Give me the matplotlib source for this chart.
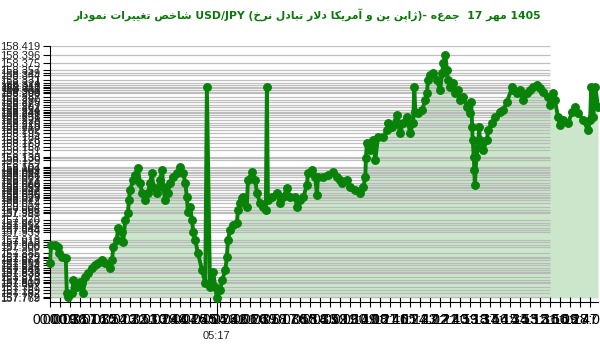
import re

import matplotlib

matplotlib.use("Agg")
import matplotlib.pyplot as plt
import numpy as np

# minutes after midnight for each quote, and the USD/JPY price
minutes = [
    0, 2, 10, 15, 17, 23, 30, 32, 34, 42, 44, 51, 57, 61, 63, 67, 72, 80, 86,
    91, 99, 105, 114, 118, 120, 127, 129, 137, 139, 143, 148, 150, 152, 158,
    162, 167, 171, 175, 181, 186, 190, 194, 196, 203, 209, 213, 215, 219, 224,
    228, 234, 241, 247, 253, 257, 260, 262, 266, 270, 272, 276, 281, 289, 295,
    298, 304, 310, 314, 317, 323, 327, 333, 336, 338, 342, 348, 355, 357, 361,
    365, 367, 374, 376, 384, 390, 393, 399, 405, 410, 412, 414, 422, 431, 437,
    443, 450, 456, 466, 469, 475, 481, 488, 490, 498, 504, 507, 509, 519, 528,
    538, 545, 551, 555, 564, 570, 580, 589, 595, 599, 600, 602, 608, 614, 618,
    623, 633, 640, 642, 650, 659, 661, 665, 671, 678, 684, 690, 692, 694, 699,
    707, 713, 716, 718, 722, 728, 735, 741, 745, 747, 751, 754, 756, 760, 766,
    770, 775, 779, 785, 792, 798, 800, 802, 803, 805, 806, 807, 810, 813, 815,
    817, 823, 830, 832, 840, 846, 855, 861, 868, 878, 880, 887, 893, 899, 906,
    912, 918, 925, 931, 937, 946, 950, 956, 959, 965, 969, 975, 984, 992, 998,
    1003, 1013, 1022, 1026, 1028, 1030, 1032, 1036, 1041,
]
prices = [
    157.859, 157.906, 157.906, 157.900, 157.885, 157.875, 157.872, 157.782,
    157.772, 157.782, 157.815, 157.797, 157.810, 157.807, 157.782, 157.823,
    157.833, 157.846, 157.854, 157.859, 157.867, 157.859, 157.846, 157.867,
    157.900, 157.918, 157.949, 157.939, 157.913, 157.970, 157.988, 158.022,
    158.047, 158.073, 158.086, 158.104, 158.066, 158.040, 158.022, 158.040,
    158.066, 158.091, 158.055, 158.040, 158.073, 158.099, 158.055, 158.022,
    158.040, 158.066, 158.081, 158.091, 158.107, 158.091, 158.066, 158.029,
    157.991, 158.004, 157.970, 157.939, 157.918, 157.885, 157.841, 157.807,
    158.313, 157.797, 157.836, 157.797, 157.769, 157.789, 157.815, 157.841,
    157.875, 157.918, 157.944, 157.957, 157.962, 157.996, 158.014, 158.027,
    158.029, 158.004, 158.073, 158.094, 158.073, 158.040, 158.014, 158.004,
    157.996, 158.313, 158.022, 158.029, 158.040, 158.014, 158.029, 158.053,
    158.029, 158.029, 158.004, 158.022, 158.029, 158.060, 158.091, 158.099,
    158.081, 158.035, 158.081, 158.081, 158.086, 158.094, 158.081, 158.073,
    158.066, 158.073, 158.055, 158.047, 158.040, 158.055, 158.081, 158.130,
    158.169, 158.151, 158.176, 158.125, 158.184, 158.184, 158.202, 158.220,
    158.210, 158.241, 158.220, 158.195, 158.220, 158.236, 158.195, 158.220,
    158.313, 158.249, 158.246, 158.254, 158.280, 158.298, 158.331, 158.344,
    158.349, 158.331, 158.305, 158.349, 158.375, 158.396, 158.357, 158.331,
    158.313, 158.324, 158.298, 158.305, 158.280, 158.287, 158.262, 158.246,
    158.275, 158.210, 158.176, 158.133, 158.099, 158.060, 158.133, 158.158,
    158.210, 158.176, 158.151, 158.176, 158.202, 158.220, 158.236, 158.249,
    158.254, 158.275, 158.313, 158.305, 158.298, 158.305, 158.280, 158.298,
    158.305, 158.313, 158.318, 158.311, 158.300, 158.287, 158.267, 158.298,
    158.280, 158.236, 158.215, 158.228, 158.220, 158.249, 158.262, 158.246,
    158.228, 158.202, 158.228, 158.313, 158.236, 158.236, 158.313, 158.262,
]
y_low, y_high = 157.769, 158.419
grid_end = 950          # the horizontal guide lines stop here (minutes)
marked_time = 317       # 05:17, the extra long tick under the axis
tick_step = 19

TITLE = "نمودار تغییرات شاخص USD/JPY (نرخ تبادل دلار آمریکا و ین ژاپن)- جمعه  17 مهر 1405"

# isolated, final, initial, medial presentation forms
FORMS = {
    "ا": ("\uFE8D", "\uFE8E", None, None),
    "آ": ("\uFE81", "\uFE82", None, None),
    "ب": ("\uFE8F", "\uFE90", "\uFE91", "\uFE92"),
    "ت": ("\uFE95", "\uFE96", "\uFE97", "\uFE98"),
    "ج": ("\uFE9D", "\uFE9E", "\uFE9F", "\uFEA0"),
    "خ": ("\uFEA5", "\uFEA6", "\uFEA7", "\uFEA8"),
    "د": ("\uFEA9", "\uFEAA", None, None),
    "ر": ("\uFEAD", "\uFEAE", None, None),
    "ش": ("\uFEB5", "\uFEB6", "\uFEB7", "\uFEB8"),
    "ص": ("\uFEB9", "\uFEBA", "\uFEBB", "\uFEBC"),
    "غ": ("\uFECD", "\uFECE", "\uFECF", "\uFED0"),
    "ل": ("\uFEDD", "\uFEDE", "\uFEDF", "\uFEE0"),
    "م": ("\uFEE1", "\uFEE2", "\uFEE3", "\uFEE4"),
    "ن": ("\uFEE5", "\uFEE6", "\uFEE7", "\uFEE8"),
    "ه": ("\uFEE9", "\uFEEA", "\uFEEB", "\uFEEC"),
    "و": ("\uFEED", "\uFEEE", None, None),
    "پ": ("\uFB56", "\uFB57", "\uFB58", "\uFB59"),
    "ژ": ("\uFB8A", "\uFB8B", None, None),
    "ک": ("\uFB8E", "\uFB8F", "\uFB90", "\uFB91"),
    "ی": ("\uFBFC", "\uFBFD", "\uFBFE", "\uFBFF"),
    "لا": ("\uFEFB", "\uFEFC", None, None),
}


def shape_run(run: str) -> str:
    units = []
    i = 0
    while i < len(run):
        if run[i:i + 2] == "لا":
            units.append("لا")
            i += 2
        else:
            units.append(run[i])
            i += 1
    out = []
    for k, u in enumerate(units):
        f = FORMS.get(u)
        if f is None:
            out.append(u)
            continue
        prev_joins = k > 0 and FORMS.get(units[k - 1], (0, 0, None))[2] is not None
        next_joins = f[2] is not None and k < len(units) - 1
        if prev_joins and next_joins:
            out.append(f[3])
        elif prev_joins:
            out.append(f[1])
        elif next_joins:
            out.append(f[2])
        else:
            out.append(f[0])
    return "".join(reversed(out))


def shape_words(text: str) -> str:
    # words stay in reading order, letters inside each word are drawn RTL
    return re.sub(r"[\u0600-\u06FF]+", lambda m: shape_run(m.group(0)), text)


plt.rcParams["font.family"] = ["Liberation Sans", "DejaVu Sans"]

fig = plt.figure(figsize=(6, 3.52), dpi=100)
ax = fig.add_axes([0.0833, 0.1534, 0.9134, 0.7159])

x = np.array(minutes)
y = np.array(prices)

ax.fill_between(x, y, y_low, color="#cce6cc", lw=0, zorder=1)
levels = sorted(set(prices) | {y_high})
ax.hlines(levels, 0, grid_end, color="#b4b4b4", lw=0.9, alpha=0.85, zorder=2)
ax.plot(x, y, color="#088208", lw=2.8, marker="o", ms=5.4, zorder=3,
        clip_on=False)

ax.set_xlim(0, 1041)
ax.set_ylim(y_low, y_high)

ax.set_yticks(levels)
ax.set_yticklabels([f"{v:.3f}" for v in levels], fontsize=8, color="#222222")
ax.tick_params(axis="y", direction="out", length=5, width=0.8, pad=2)

xt = np.arange(0, 1041, tick_step)
ax.set_xticks(xt)
ax.set_xticklabels([f"{m // 60:02d}:{m % 60:02d}" for m in xt], fontsize=8,
                   color="#222222")
ax.tick_params(axis="x", direction="inout", length=7, width=0.8, pad=4)

for side in ("top", "right"):
    ax.spines[side].set_visible(False)
ax.spines["bottom"].set_position(("outward", 3))
ax.spines["left"].set_linewidth(0.8)
ax.spines["bottom"].set_linewidth(0.8)

sec = ax.secondary_xaxis("bottom")
sec.set_xticks([marked_time])
sec.set_xticklabels([f"{marked_time // 60:02d}:{marked_time % 60:02d}"],
                    fontsize=8, color="#222222")
sec.tick_params(direction="out", length=15, width=0.8, pad=9)
sec.spines["bottom"].set_visible(False)

fig.text(0.512, 0.957, shape_words(TITLE), ha="center", va="center",
         fontsize=7.8, fontweight="bold", color="#0b7a0b",
         family="DejaVu Sans")

fig.savefig("out.png", dpi=100)
